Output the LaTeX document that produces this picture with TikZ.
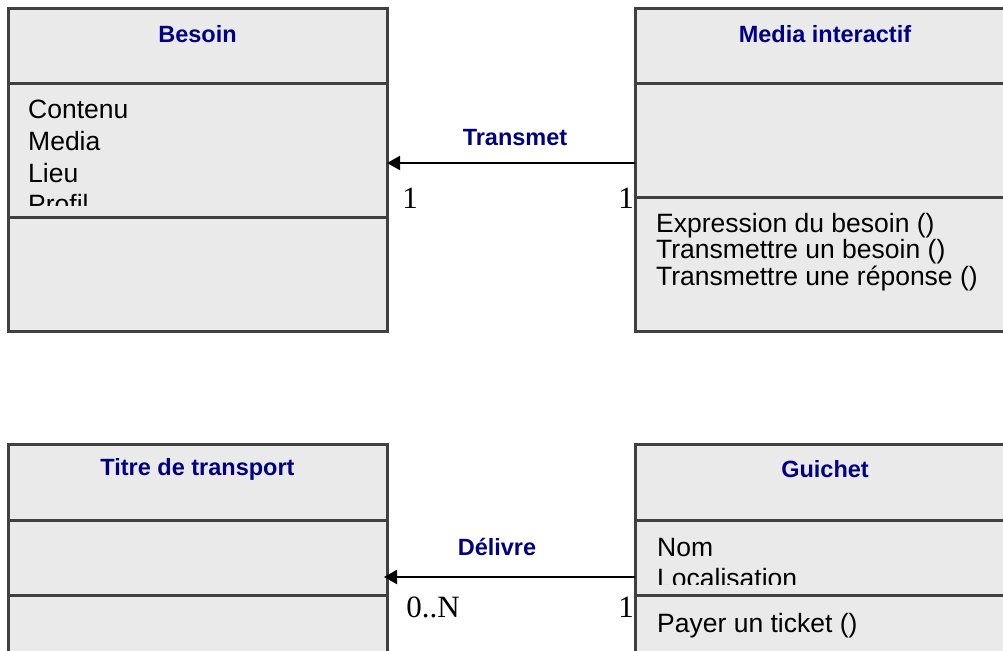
\documentclass[tikz,border=0pt]{standalone}
\usepackage{fontspec}
\setmainfont{Liberation Sans}
\newfontfamily\multfont{Liberation Serif}
\usetikzlibrary{arrows.meta}
\definecolor{boxfill}{HTML}{EAEAEA}
\definecolor{boxline}{HTML}{404040}
\definecolor{titlecol}{HTML}{000080}
\tikzset{
  comp/.style={draw=boxline, line width=3pt, fill=boxfill, rectangle, inner sep=0pt, outer sep=0pt, anchor=north west},
  ctitle/.style={font=\fontsize{23.5}{28}\selectfont\bfseries, text=titlecol, inner sep=0pt},
  attr/.style={font=\fontsize{26.5}{30}\selectfont, anchor=base west, inner sep=0pt},
  alabel/.style={font=\fontsize{23.5}{28}\selectfont\bfseries, text=titlecol, inner sep=0pt},
  mult/.style={font=\fontsize{31}{36}\selectfont\multfont, anchor=base, inner sep=0pt},
  assoc/.style={line width=2pt, -{Triangle[length=13pt,width=14pt]}}
}
\begin{document}
\begin{tikzpicture}[x=1pt,y=-1pt]
\useasboundingbox (0,0) rectangle (1003,650);
\clip (0,0) rectangle (1003,650);
\fill[white] (0,0) rectangle (1003,650);

% Besoin
\node[comp, minimum width=379pt, minimum height=75pt] (besoinH) at (8,9) {};
\node[comp, minimum width=379pt, minimum height=133pt] (besoinA) at (8,84) {};
\node[comp, minimum width=379pt, minimum height=114pt] (besoinO) at (8,217) {};
\node[ctitle] (besoinT) at (197.5,34) {Besoin};
\begin{scope}
  \clip (besoinA.north west) rectangle ([yshift=12pt]besoinA.south east);
  \node[attr] (b1) at (28,119) {Contenu};
  \node[attr] (b2) at (28,150.5) {Media};
  \node[attr] (b3) at (28,182) {Lieu};
  \node[attr] (b4) at (28,213) {Profil};
\end{scope}

% Media interactif
\node[comp, minimum width=380pt, minimum height=75pt] (mediaH) at (635,9) {};
\node[comp, minimum width=380pt, minimum height=113pt] (mediaA) at (635,84) {};
\node[comp, minimum width=380pt, minimum height=134pt] (mediaO) at (635,197) {};
\node[ctitle] (mediaT) at (825,34) {Media interactif};
\node[attr] (m1) at (656,232) {Expression du besoin ()};
\node[attr] (m2) at (656,258.5) {Transmettre un besoin ()};
\node[attr] (m3) at (656,285) {Transmettre une réponse ()};

% Titre de transport
\node[comp, minimum width=379pt, minimum height=76pt] (titreH) at (8,444) {};
\node[comp, minimum width=379pt, minimum height=75pt] (titreA) at (8,520) {};
\node[comp, minimum width=379pt, minimum height=105pt] (titreO) at (8,595) {};
\node[ctitle] (titreT) at (197.5,469) {Titre de transport};

% Guichet
\node[comp, minimum width=380pt, minimum height=76pt] (guichetH) at (635,444) {};
\node[comp, minimum width=380pt, minimum height=75pt] (guichetA) at (635,520) {};
\node[comp, minimum width=380pt, minimum height=105pt] (guichetO) at (635,595) {};
\node[ctitle] (guichetT) at (825,469) {Guichet};
\begin{scope}
  \clip (guichetA.north west) rectangle ([yshift=11pt]guichetA.south east);
  \node[attr] (g1) at (657,556) {Nom};
  \node[attr] (g2) at (657,587) {Localisation};
\end{scope}
\node[attr] (g3) at (657,632) {Payer un ticket ()};

% Associations
\coordinate (transY) at (0,163);
\coordinate (delivY) at (0,577);
\draw[assoc] (mediaA.west |- transY) -- (besoinA.east |- transY);
\node[alabel] (transL) at (515,137.5) {Transmet};
\node[mult] (transM1) at (410,208) {1};
\node[mult] (transM2) at (626,208) {1};

\draw[assoc] (guichetA.west |- delivY) -- ([xshift=-3pt]titreA.east |- delivY);
\node[alabel] (delivL) at (497,547) {Délivre};
\node[mult] (delivM1) at (433,617) {0..N};
\node[mult] (delivM2) at (626,617) {1};
\end{tikzpicture}
\end{document}
